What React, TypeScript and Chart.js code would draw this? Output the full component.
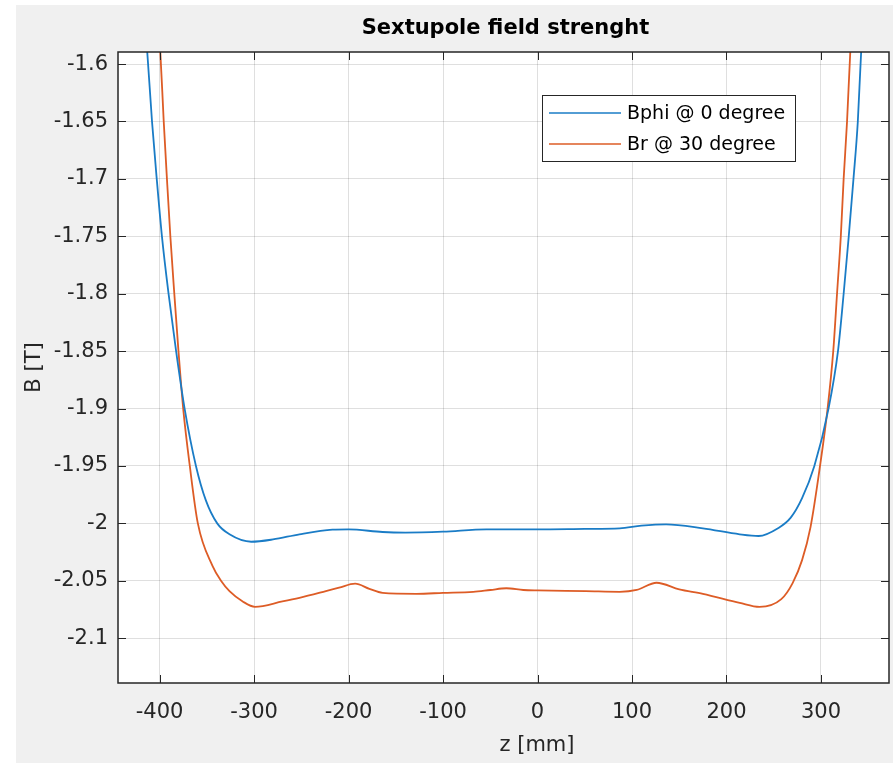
import React, { useEffect, useRef } from "react";
import { Chart, registerables } from "chart.js";
Chart.register(...registerables);

const chartTitle = "Sextupole field strenght";
const xLabel = "z [mm]";
const yLabel = "B [T]";
const seriesNames = ["Bphi @ 0 degree", "Br @ 30 degree"];
const seriesColors = ["#1a7cc6", "#dd5c26"];

const zBphi = [-421, -413, -408, -403, -397.5, -390.5, -382.5, -373.5, -361.5, -351, -339, -326, -303, -280, -252, -217, -200, -164, -140, -100, -54, 0, 50, 87, 110, 136, 175, 214, 234, 255, 268, 280, 293, 308, 318, 324, 329.4, 334.4, 339, 342.5, 350];
const bphi = [-1.51, -1.59, -1.65, -1.7, -1.75, -1.8, -1.85, -1.9, -1.95, -1.98, -2.0, -2.0095, -2.016, -2.014, -2.0095, -2.0055, -2.0052, -2.0075, -2.008, -2.0072, -2.0052, -2.0052, -2.0048, -2.0043, -2.002, -2.0008, -2.0043, -2.0095, -2.011, -2.004, -1.995, -1.978, -1.95, -1.9, -1.85, -1.8, -1.75, -1.7, -1.65, -1.59, -1.51];

const zBr = [-406, -399.2, -395.6, -392.2, -388.6, -384.4, -380, -375, -368, -359.5, -344, -335, -326, -312, -299, -270, -252, -224, -210, -193, -178, -164, -128, -100, -68, -50, -33, -15, 0, 51, 87, 105, 126, 150, 175, 214, 235, 258, 270, 280, 289, 299, 307, 313, 317, 321, 324, 327.6, 331, 338];
const br = [-1.52, -1.59, -1.65, -1.7, -1.75, -1.8, -1.85, -1.9, -1.95, -2.0, -2.037, -2.05, -2.059, -2.068, -2.0727, -2.068, -2.0648, -2.059, -2.056, -2.0525, -2.057, -2.0605, -2.0613, -2.0605, -2.0596, -2.058, -2.0565, -2.058, -2.0584, -2.059, -2.0596, -2.058, -2.0517, -2.0575, -2.0613, -2.0692, -2.0727, -2.066, -2.052, -2.032, -2.003, -1.95, -1.9, -1.85, -1.8, -1.75, -1.7, -1.65, -1.59, -1.51];

const xTicks = [-400, -300, -200, -100, 0, 100, 200, 300];
const xTickLabels = ["-400", "-300", "-200", "-100", "0", "100", "200", "300"];
const yTicks = [-2.1, -2.05, -2, -1.95, -1.9, -1.85, -1.8, -1.75, -1.7, -1.65, -1.6];
const yTickLabels = ["-2.1", "-2.05", "-2", "-1.95", "-1.9", "-1.85", "-1.8", "-1.75", "-1.7", "-1.65", "-1.6"];
const xRange = [-444, 372];
const yRange = [-2.139, -1.5895];

const FONT = "'DejaVu Sans', sans-serif";
const W = 893;
const H = 763;

export default function App() {
  const ref = useRef<HTMLCanvasElement | null>(null);
  useEffect(() => {
    const canvas = ref.current;
    if (!canvas) return;
    const deco = {
      id: "deco",
      beforeDraw(chart: any) {
        const ctx = chart.ctx;
        const a = chart.chartArea;
        ctx.save();
        ctx.fillStyle = "#ffffff";
        ctx.fillRect(0, 0, W, H);
        ctx.fillStyle = "#f0f0f0";
        ctx.fillRect(16, 5, W - 16, H - 5);
        ctx.fillStyle = "#ffffff";
        ctx.fillRect(a.left, a.top, a.right - a.left, a.bottom - a.top);
        ctx.restore();
      },
      afterDraw(chart: any) {
        const ctx = chart.ctx;
        const a = chart.chartArea;
        const xs = chart.scales.x;
        const ys = chart.scales.y;
        ctx.save();
        ctx.strokeStyle = "#262626";
        ctx.lineWidth = 1;
        const tl = 8;
        ctx.beginPath();
        xTicks.forEach((v) => {
          const px = Math.round(xs.getPixelForValue(v)) + 0.5;
          ctx.moveTo(px, a.bottom);
          ctx.lineTo(px, a.bottom - tl);
          ctx.moveTo(px, a.top);
          ctx.lineTo(px, a.top + tl);
        });
        yTicks.forEach((v) => {
          const py = Math.round(ys.getPixelForValue(v)) + 0.5;
          ctx.moveTo(a.left, py);
          ctx.lineTo(a.left + tl, py);
          ctx.moveTo(a.right, py);
          ctx.lineTo(a.right - tl, py);
        });
        ctx.stroke();
        ctx.lineWidth = 1.5;
        ctx.strokeRect(a.left, a.top, a.right - a.left, a.bottom - a.top);

        // title
        ctx.fillStyle = "#000000";
        ctx.font = `bold 21px ${FONT}`;
        ctx.textAlign = "center";
        ctx.textBaseline = "middle";
        ctx.fillText(chartTitle, (a.left + a.right) / 2 + 2, 29);

        // axis labels
        ctx.fillStyle = "#262626";
        ctx.font = `21px ${FONT}`;
        ctx.fillText(xLabel, 537, 746);
        ctx.save();
        ctx.translate(35, (a.top + a.bottom) / 2);
        ctx.rotate(-Math.PI / 2);
        ctx.fillText(yLabel, 0, 0);
        ctx.restore();

        // legend
        const lx = 542, ly = 95, lw = 253, lh = 66;
        ctx.fillStyle = "#ffffff";
        ctx.fillRect(lx, ly, lw, lh);
        ctx.strokeStyle = "#262626";
        ctx.lineWidth = 1;
        ctx.strokeRect(lx + 0.5, ly + 0.5, lw, lh);
        const rows = [113, 144];
        ctx.font = `19px ${FONT}`;
        ctx.textAlign = "left";
        seriesNames.forEach((name, i) => {
          ctx.strokeStyle = seriesColors[i];
          ctx.lineWidth = 1.5;
          ctx.beginPath();
          ctx.moveTo(549, rows[i]);
          ctx.lineTo(621, rows[i]);
          ctx.stroke();
          ctx.fillStyle = "#000000";
          ctx.fillText(name, 627, rows[i] + 1);
        });
        ctx.restore();
      },
    };

    const chart = new Chart(canvas, {
      type: "line",
      data: {
        datasets: [
          {
            label: seriesNames[0],
            data: zBphi.map((z, i) => ({ x: z, y: bphi[i] })),
            borderColor: seriesColors[0],
            borderWidth: 1.8,
            pointRadius: 0,
            cubicInterpolationMode: "monotone",
            fill: false,
          },
          {
            label: seriesNames[1],
            data: zBr.map((z, i) => ({ x: z, y: br[i] })),
            borderColor: seriesColors[1],
            borderWidth: 1.8,
            pointRadius: 0,
            cubicInterpolationMode: "monotone",
            fill: false,
          },
        ],
      },
      options: {
        animation: false,
        responsive: false,
        devicePixelRatio: 1,
        layout: { padding: { left: 0, top: 52, right: 4, bottom: 0 } },
        plugins: { legend: { display: false }, title: { display: false }, tooltip: { enabled: false } },
        scales: {
          x: {
            type: "linear",
            min: xRange[0],
            max: xRange[1],
            afterFit: (s: any) => { s.height = 80; },
            afterBuildTicks: (s: any) => { s.ticks = xTicks.map((v) => ({ value: v })); },
            ticks: {
              autoSkip: false,
              maxRotation: 0,
              padding: 17,
              color: "#262626",
              font: { family: FONT, size: 21 },
              callback: (v: any) => xTickLabels[xTicks.indexOf(Number(v))] ?? String(v),
            },
            grid: { color: "rgba(38,38,38,0.15)", lineWidth: 1, drawTicks: false },
            border: { display: false },
          },
          y: {
            type: "linear",
            min: yRange[0],
            max: yRange[1],
            afterFit: (s: any) => { s.width = 118; },
            afterBuildTicks: (s: any) => { s.ticks = yTicks.map((v) => ({ value: v })); },
            ticks: {
              autoSkip: false,
              padding: 10,
              color: "#262626",
              font: { family: FONT, size: 21 },
              callback: (v: any) => {
                const idx = yTicks.findIndex((t) => Math.abs(t - Number(v)) < 1e-6);
                return idx >= 0 ? yTickLabels[idx] : String(v);
              },
            },
            grid: { color: "rgba(38,38,38,0.15)", lineWidth: 1, drawTicks: false },
            border: { display: false },
          },
        },
      },
      plugins: [deco],
    } as any);
    return () => chart.destroy();
  }, []);
  return (
    <div style={{ position: "fixed", left: 0, top: 0, width: W, height: H }}>
      <canvas ref={ref} width={W} height={H} style={{ display: "block" }} />
    </div>
  );
}
